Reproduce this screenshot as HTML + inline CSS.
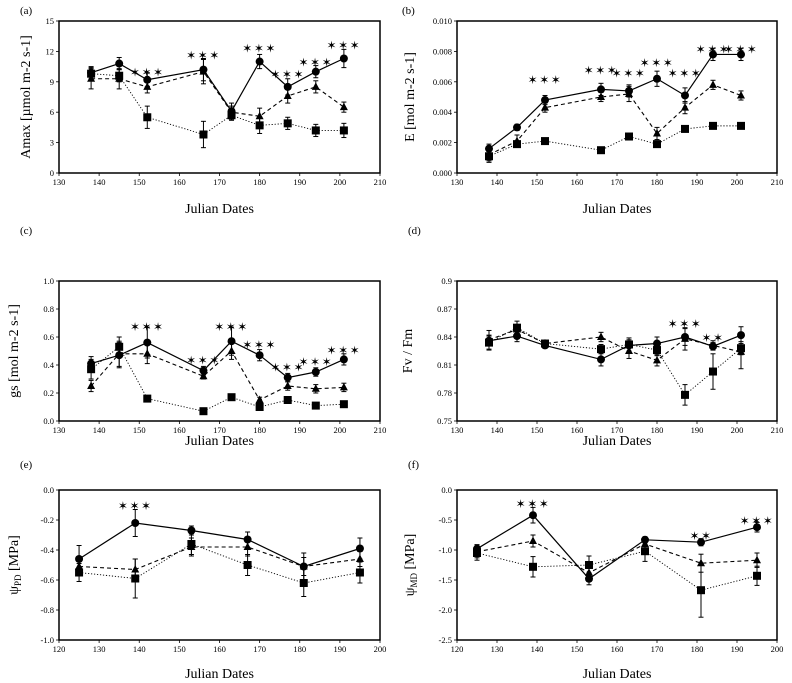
<!DOCTYPE html>
<html><head><meta charset="utf-8"><style>
body{margin:0;background:#fff}
svg{display:block;font-family:"Liberation Serif",serif}
</style></head><body>
<svg id="chart" width="792" height="683" viewBox="0 0 792 683" xmlns="http://www.w3.org/2000/svg"></svg>
<script>
// ---- data ----
const xA = [138,145,152,166,173,180,187,194,201];
const xE = [125,139,153,167,181,195];

const aCircle = [9.9,10.8,9.2,10.2,6.1,11.0,8.5,10.0,11.3];
const aCircleErr = [0.6,0.6,0.7,1.1,0.8,0.7,0.8,0.6,0.9];
const aTri = [9.3,9.3,8.5,10.0,6.0,5.6,7.6,8.5,6.5];
const aTriErr = [1.0,1.0,0.6,1.2,0.6,0.8,0.7,0.6,0.5];
const aSq = [9.8,9.6,5.5,3.8,5.7,4.7,4.9,4.2,4.2];
const aSqErr = [0.6,0.6,1.1,1.3,0.5,0.8,0.6,0.6,0.7];
const aStarX = [152,166,180,187,194,201];
const aStarY = [10.0,11.7,12.4,9.8,11.0,12.7];
const aStarN = [3,3,3,3,3,3];

const bCircle = [0.0016,0.0030,0.0048,0.0055,0.0054,0.0062,0.0051,0.0078,0.0078];
const bCircleErr = [0.0003,0.0002,0.0003,0.0004,0.0004,0.0005,0.0005,0.0004,0.0004];
const bTri = [0.0012,0.0021,0.0043,0.0050,0.0052,0.0026,0.0043,0.0058,0.0051];
const bTriErr = [0.0005,0.0004,0.0003,0.0003,0.0005,0.0004,0.0004,0.0003,0.0003];
const bSq = [0.0011,0.0019,0.0021,0.0015,0.0024,0.0019,0.0029,0.0031,0.0031];
const bSqErr = [0.0003,0.0002,0.0002,0.0002,0.0002,0.0002,0.0002,0.0002,0.0002];
const bStarX = [152,166,173,180,187,194,201];
const bStarY = [0.0062,0.0068,0.0066,0.0073,0.0066,0.0082,0.0082];
const bStarN = [3,3,3,3,3,3,3];

const cCircle = [0.41,0.47,0.56,0.36,0.57,0.47,0.31,0.35,0.44];
const cCircleErr = [0.05,0.09,0.11,0.03,0.10,0.04,0.03,0.03,0.04];
const cTri = [0.25,0.48,0.48,0.32,0.50,0.15,0.25,0.23,0.24];
const cTriErr = [0.04,0.09,0.07,0.02,0.06,0.02,0.03,0.03,0.03];
const cSq = [0.37,0.53,0.16,0.07,0.17,0.10,0.15,0.11,0.12];
const cSqErr = [0.07,0.07,0.02,0.01,0.01,0.01,0.02,0.02,0.01];
const cStarX = [152,166,173,180,187,194,201];
const cStarY = [0.68,0.44,0.68,0.55,0.39,0.43,0.51];
const cStarN = [3,3,3,3,3,3,3];

const dCircle = [0.836,0.841,0.831,0.816,0.831,0.833,0.840,0.830,0.842];
const dCircleErr = [0.005,0.006,0.003,0.007,0.006,0.007,0.009,0.004,0.009];
const dTri = [0.837,0.848,0.833,0.840,0.825,0.815,0.838,0.831,0.824];
const dTriErr = [0.010,0.005,0.003,0.005,0.008,0.006,0.012,0.005,0.018];
const dSq = [0.834,0.850,0.833,0.827,0.832,0.826,0.778,0.803,0.828];
const dSqErr = [0.008,0.007,0.003,0.005,0.007,0.006,0.011,0.019,0.007];
const dStarX = [187,194];
const dStarY = [0.855,0.840];
const dStarN = [3,2];

const eCircle = [-0.46,-0.22,-0.27,-0.33,-0.51,-0.39];
const eCircleErr = [0.09,0.09,0.03,0.05,0.09,0.07];
const eTri = [-0.51,-0.53,-0.38,-0.38,-0.51,-0.46];
const eTriErr = [0.05,0.07,0.06,0.06,0.06,0.05];
const eSq = [-0.55,-0.59,-0.36,-0.50,-0.62,-0.55];
const eSqErr = [0.06,0.13,0.07,0.07,0.09,0.07];
const eStarX = [139];
const eStarY = [-0.10];
const eStarN = [3];

const fCircle = [-0.98,-0.42,-1.48,-0.83,-0.87,-0.62];
const fCircleErr = [0.07,0.13,0.10,0.05,0.06,0.08];
const fTri = [-1.03,-0.85,-1.38,-0.90,-1.22,-1.17];
const fTriErr = [0.10,0.10,0.10,0.08,0.15,0.12];
const fSq = [-1.05,-1.28,-1.25,-1.02,-1.67,-1.43];
const fSqErr = [0.12,0.17,0.15,0.17,0.45,0.16];
const fStarX = [139,181,195];
const fStarY = [-0.22,-0.75,-0.50];
const fStarN = [3,2,3];

const xTicksA = [130,140,150,160,170,180,190,200,210];
const xTicksE = [120,130,140,150,160,170,180,190,200];
// tick labels listed bottom to top
const yTicksA = ["0","3","6","9","12","15"];
const yTicksB = ["0.000","0.002","0.004","0.006","0.008","0.010"];
const yTicksC = ["0.0","0.2","0.4","0.6","0.8","1.0"];
const yTicksD = ["0.75","0.78","0.81","0.84","0.87","0.9"];
const yTicksE = ["-1.0","-0.8","-0.6","-0.4","-0.2","0.0"];
const yTicksF = ["-2.5","-2.0","-1.5","-1.0","-0.5","0.0"];

const svg = document.getElementById('chart');
const NS = 'http://www.w3.org/2000/svg';
function mk(tag, attrs, parent, text){
  const e = document.createElementNS(NS, tag);
  for (const k in attrs) e.setAttribute(k, attrs[k]);
  if (text !== undefined) e.textContent = text;
  (parent || svg).appendChild(e);
  return e;
}

const panels = [
 {id:'a', L:59,R:380,T:21,B:173, xmin:130,xmax:210, ymin:0,ymax:15, xt:xTicksA, yt:yTicksA, x:xA,
  c:aCircle,ce:aCircleErr,t:aTri,te:aTriErr,s:aSq,se:aSqErr, sx:aStarX,sy:aStarY,sn:aStarN,
  lab:[20,14], ylab:'Amax [µmol m-2 s-1]', ylx:30, xty:213},
 {id:'b', L:457,R:777,T:21,B:173, xmin:130,xmax:210, ymin:0,ymax:0.010, xt:xTicksA, yt:yTicksB, x:xA,
  c:bCircle,ce:bCircleErr,t:bTri,te:bTriErr,s:bSq,se:bSqErr, sx:bStarX,sy:bStarY,sn:bStarN,
  lab:[402,14], ylab:'E [mol m-2 s-1]', ylx:414, xty:213},
 {id:'c', L:59,R:380,T:281,B:421, xmin:130,xmax:210, ymin:0,ymax:1, xt:xTicksA, yt:yTicksC, x:xA,
  c:cCircle,ce:cCircleErr,t:cTri,te:cTriErr,s:cSq,se:cSqErr, sx:cStarX,sy:cStarY,sn:cStarN,
  lab:[20,234], ylab:'gs [mol m-2 s-1]', ylx:18, xty:445},
 {id:'d', L:457,R:777,T:281,B:421, xmin:130,xmax:210, ymin:0.75,ymax:0.9, xt:xTicksA, yt:yTicksD, x:xA,
  c:dCircle,ce:dCircleErr,t:dTri,te:dTriErr,s:dSq,se:dSqErr, sx:dStarX,sy:dStarY,sn:dStarN,
  lab:[408,234], ylab:'Fv / Fm', ylx:412, xty:445},
 {id:'e', L:59,R:380,T:490,B:640, xmin:120,xmax:200, ymin:-1,ymax:0, xt:xTicksE, yt:yTicksE, x:xE,
  c:eCircle,ce:eCircleErr,t:eTri,te:eTriErr,s:eSq,se:eSqErr, sx:eStarX,sy:eStarY,sn:eStarN,
  lab:[20,468], ylab:'PD', ylx:18, xty:678, psi:true},
 {id:'f', L:457,R:777,T:490,B:640, xmin:120,xmax:200, ymin:-2.5,ymax:0, xt:xTicksE, yt:yTicksF, x:xE,
  c:fCircle,ce:fCircleErr,t:fTri,te:fTriErr,s:fSq,se:fSqErr, sx:fStarX,sy:fStarY,sn:fStarN,
  lab:[408,468], ylab:'MD', ylx:414, xty:678, psi:true},
];

panels.forEach(p => {
  const g = mk('g', {});
  
  
  const X = v => p.L + (v - p.xmin) / (p.xmax - p.xmin) * (p.R - p.L);
  const Y = v => p.B - (v - p.ymin) / (p.ymax - p.ymin) * (p.B - p.T);

  const lab = mk('text', {x:p.lab[0], y:p.lab[1], 'font-size':11}, g, '(' + p.id + ')');
  
  

  p.xt.forEach(v => {
    mk('line', {x1:X(v), x2:X(v), y1:p.B, y2:p.B+3, stroke:'#000', 'stroke-width':0.8}, g);
    const t = mk('text', {x:X(v), y:p.B+12, 'font-size':8.5, 'text-anchor':'middle'}, g, v);
    
    
  });
  const n = p.yt.length;
  p.yt.forEach((s, i) => {
    const yy = p.B - i / (n - 1) * (p.B - p.T);
    mk('line', {x1:p.L-3, x2:p.L, y1:yy, y2:yy, stroke:'#000', 'stroke-width':0.8}, g);
    const t = mk('text', {x:p.L-5, y:yy+3, 'font-size':8.5, 'text-anchor':'end'}, g, s);
    
    
  });
  const xt = mk('text', {x:(p.L+p.R)/2, y:p.xty, 'font-size':14, 'text-anchor':'middle'}, g, 'Julian Dates');
  
  
  const cy = (p.T + p.B) / 2;
  const yt = mk('text', {x:p.ylx, y:cy, 'font-size':14, 'text-anchor':'middle', transform:`rotate(-90 ${p.ylx} ${cy})`}, g);
  
  
  if (p.psi) {
    mk('tspan', {}, yt, 'ψ');
    mk('tspan', {'font-size':9, dy:3}, yt, p.ylab);
    mk('tspan', {dy:-3}, yt, '  [MPa]');
  } else {
    yt.textContent = p.ylab;
  }

  const series = [
    {v:p.s, e:p.se, dash:'1.2,1.8', w:0.9, m:'sq', name:'square'},
    {v:p.t, e:p.te, dash:'4,3', w:1.1, m:'tri', name:'triangle'},
    {v:p.c, e:p.ce, dash:'', w:1.2, m:'circ', name:'circle'},
  ];
  series.forEach(s => {
    const sg = mk('g', {}, g);
    
    
    const pts = p.x.map((x, i) => X(x) + ',' + Y(s.v[i])).join(' ');
    const pl = mk('polyline', {points:pts, fill:'none', stroke:'#000', 'stroke-width':s.w, 'stroke-dasharray':s.dash}, sg);
    
    
    p.x.forEach((x, i) => {
      const cx = X(x), y0 = Y(s.v[i]), y1 = Y(s.v[i] + s.e[i]), y2 = Y(s.v[i] - s.e[i]);
      mk('line', {x1:cx, x2:cx, y1:y1, y2:y2, stroke:'#000', 'stroke-width':1}, sg);
      mk('line', {x1:cx-2.5, x2:cx+2.5, y1:y1, y2:y1, stroke:'#000', 'stroke-width':1}, sg);
      mk('line', {x1:cx-2.5, x2:cx+2.5, y1:y2, y2:y2, stroke:'#000', 'stroke-width':1}, sg);
      let m;
      if (s.m === 'sq') m = mk('rect', {x:cx-4, y:y0-4, width:8, height:8, fill:'#000'}, sg);
      else if (s.m === 'tri') m = mk('polygon', {points:`${cx},${y0-4.5} ${cx-4},${y0+3} ${cx+4},${y0+3}`, fill:'#000'}, sg);
      else m = mk('circle', {cx:cx, cy:y0, r:4, fill:'#000'}, sg);
      
      
    });
  });

  p.sx.forEach((x, i) => {
    const st = mk('text', {x:X(x), y:Y(p.sy[i]) + 5, 'font-size':12, 'text-anchor':'middle',
      'font-family':'"DejaVu Sans", sans-serif', 'letter-spacing':'1.5'}, g, Array(p.sn[i]).fill('✶').join(''));
    
    
  });

  const fr = mk('rect', {x:p.L, y:p.T, width:p.R-p.L, height:p.B-p.T, fill:'none', stroke:'#000', 'stroke-width':1.5}, g);
  
  
});
</script>
</body></html>
